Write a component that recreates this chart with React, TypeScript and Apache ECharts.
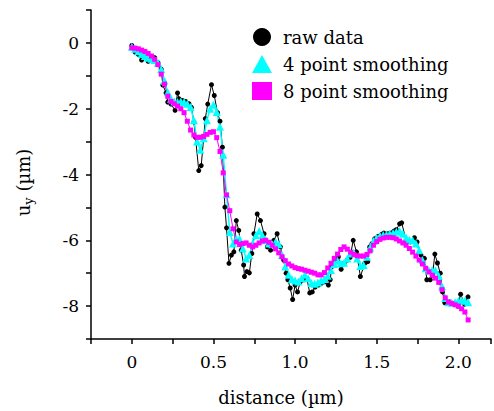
import React, { useEffect, useRef } from 'react';
import * as echarts from 'echarts';

const RAW_X = [
  0.0, 0.02, 0.04, 0.06, 0.08, 0.1, 0.12, 0.14, 0.16, 0.18, 0.19, 0.21, 0.22, 0.24, 0.265, 0.28, 0.29, 0.31, 0.33, 0.35,
  0.365, 0.38, 0.39, 0.41, 0.425, 0.44, 0.45, 0.465, 0.488, 0.505, 0.525, 0.54, 0.555, 0.57, 0.58, 0.595, 0.61, 0.625, 0.64, 0.655,
  0.67, 0.685, 0.69, 0.705, 0.72, 0.735, 0.748, 0.768, 0.788, 0.81, 0.83, 0.85, 0.87, 0.89, 0.91, 0.93, 0.945, 0.956, 0.97, 0.985,
  1.0, 1.015, 1.032, 1.052, 1.072, 1.09, 1.105, 1.123, 1.143, 1.163, 1.184, 1.204, 1.215, 1.225, 1.245, 1.265, 1.282, 1.3, 1.32, 1.337,
  1.356, 1.376, 1.4, 1.427, 1.445, 1.457, 1.471, 1.488, 1.508, 1.53, 1.544, 1.568, 1.588, 1.605, 1.62, 1.64, 1.653, 1.68, 1.706, 1.731,
  1.747, 1.771, 1.792, 1.807, 1.828, 1.842, 1.856, 1.872, 1.889, 1.903, 1.917, 1.944, 1.97, 1.998, 2.014, 2.038, 2.059,
];
const RAW_Y = [
  -0.08, -0.28, -0.35, -0.52, -0.45, -0.56, -0.5, -0.45, -0.6, -0.8, -1.28, -1.52, -1.8, -1.86, -2.05, -1.52, -1.7, -1.75, -1.78, -1.85,
  -1.96, -2.4, -2.87, -3.88, -3.73, -2.9, -2.3, -1.86, -1.27, -1.6, -2.12, -2.38, -3.17, -4.99, -5.62, -6.7, -6.45, -6.35, -5.4, -5.7,
  -6.3, -6.75, -7.1, -6.95, -6.99, -6.4, -5.8, -5.2, -5.4, -5.8, -6.2, -6.3, -6.0, -5.8, -6.2, -6.6, -7.0, -7.2, -7.45, -7.8,
  -7.36, -7.57, -7.26, -7.2, -7.16, -7.6, -7.57, -7.42, -7.36, -7.3, -7.26, -7.36, -7.2, -6.8, -6.6, -6.5, -6.88, -6.7, -6.6, -6.52,
  -6.0, -6.35, -7.1, -6.7, -6.65, -6.2, -6.1, -5.95, -5.88, -5.82, -5.78, -5.8, -5.78, -5.72, -5.68, -5.5, -5.47, -6.0, -6.05, -5.92,
  -6.05, -6.45, -6.55, -7.2, -7.2, -7.06, -6.42, -6.69, -7.0, -7.57, -7.9, -7.87, -7.92, -8.0, -7.64, -7.94, -7.72,
];

const DIST = [
  0.0, 0.02, 0.04, 0.06, 0.08, 0.1, 0.12, 0.14, 0.16, 0.18, 0.2, 0.22, 0.24, 0.26, 0.28, 0.3, 0.32, 0.34, 0.36, 0.38,
  0.4, 0.42, 0.44, 0.46, 0.48, 0.5, 0.52, 0.54, 0.56, 0.58, 0.6, 0.62, 0.64, 0.66, 0.68, 0.7, 0.72, 0.74, 0.76, 0.78,
  0.8, 0.82, 0.84, 0.86, 0.88, 0.9, 0.92, 0.94, 0.96, 0.98, 1.0, 1.02, 1.04, 1.06, 1.08, 1.1, 1.12, 1.14, 1.16, 1.18,
  1.2, 1.22, 1.24, 1.26, 1.28, 1.3, 1.32, 1.34, 1.36, 1.38, 1.4, 1.42, 1.44, 1.46, 1.48, 1.5, 1.52, 1.54, 1.56, 1.58,
  1.6, 1.62, 1.64, 1.66, 1.68, 1.7, 1.72, 1.74, 1.76, 1.78, 1.8, 1.82, 1.84, 1.86, 1.88, 1.9, 1.92, 1.94, 1.96, 1.98,
  2.0, 2.02, 2.04, 2.06,
];
const SMOOTH4_Y = [
  -0.12, -0.18, -0.25, -0.33, -0.4, -0.45, -0.48, -0.52, -0.6, -0.8, -1.15, -1.5, -1.7, -1.78, -1.8, -1.78, -1.8, -1.85, -1.95, -2.35,
  -3.0, -3.25, -2.9, -2.35, -2.0, -1.88, -2.1, -2.55, -3.4, -4.6, -5.75, -6.1, -5.95, -5.95, -6.25, -6.55, -6.45, -6.1, -5.85, -5.72,
  -5.85, -6.0, -6.1, -6.12, -6.05, -6.12, -6.45, -6.8, -7.05, -7.18, -7.22, -7.25, -7.15, -7.05, -7.15, -7.3, -7.32, -7.28, -7.22, -7.18,
  -7.08, -6.9, -6.72, -6.62, -6.7, -6.68, -6.55, -6.4, -6.38, -6.55, -6.78, -6.75, -6.5, -6.22, -6.02, -5.92, -5.86, -5.84, -5.82, -5.8,
  -5.78, -5.74, -5.72, -5.8, -5.92, -5.98, -6.0, -6.1, -6.3, -6.6, -6.85, -6.92, -6.9, -6.92, -7.08, -7.4, -7.75, -7.88, -7.9, -7.88,
  -7.84, -7.82, -7.84, -7.88,
];
const SMOOTH8_Y = [
  -0.15, -0.16, -0.18, -0.22, -0.26, -0.32, -0.4, -0.5, -0.66, -0.95, -1.25, -1.62, -1.78, -1.85, -1.92, -2.0, -2.12, -2.38, -2.65, -2.8,
  -2.87, -2.87, -2.84, -2.78, -2.72, -2.7, -2.88, -3.3, -3.95, -4.62, -5.1, -5.65, -6.05, -6.13, -6.1, -6.08, -6.15, -6.2, -6.15, -6.08,
  -6.02, -6.0, -6.06, -6.15, -6.26, -6.38, -6.5, -6.62, -6.72, -6.78, -6.83, -6.86, -6.88, -6.91, -6.94, -6.97, -7.0, -7.05, -7.05, -6.98,
  -6.84, -6.7, -6.55, -6.42, -6.28, -6.2, -6.27, -6.36, -6.43, -6.47, -6.48, -6.48, -6.43, -6.32, -6.15, -6.04, -5.97, -5.93, -5.91, -5.91,
  -5.92, -5.96, -6.02, -6.08, -6.15, -6.25, -6.36, -6.48, -6.6, -6.72, -6.85, -6.96, -7.06, -7.15, -7.28, -7.5, -7.75, -7.88, -7.92, -7.96,
  -8.0, -8.08, -8.18, -8.42,
];

const SERIES_NAMES = ['raw data', '4 point smoothing', '8 point smoothing'];
const FONT = 'DejaVu Serif';

export default function App() {
  const ref = useRef<HTMLDivElement>(null);
  useEffect(() => {
    const chart = echarts.init(ref.current!, null, { renderer: 'svg' });
    const pair = (xs: number[], ys: number[]) => xs.map((x, i) => [x, ys[i]]);
    chart.setOption({
      animation: false,
      textStyle: { fontFamily: FONT, color: '#000' },
      grid: { left: 91, right: 0, top: 10, bottom: 71, containLabel: false },
      legend: {
        orient: 'vertical',
        left: 247,
        top: 23,
        itemWidth: 20,
        itemHeight: 18,
        itemGap: 9,
        data: [
          { name: SERIES_NAMES[0], icon: 'circle' },
          { name: SERIES_NAMES[1], icon: 'triangle' },
          { name: SERIES_NAMES[2], icon: 'rect' },
        ],
        textStyle: { fontFamily: FONT, fontSize: 18, color: '#000', padding: [0, 0, 0, 6] },
      },
      xAxis: {
        type: 'value',
        min: -0.25,
        max: 2.2,
        interval: 0.25,
        splitLine: { show: false },
        axisLine: { onZero: false, lineStyle: { color: '#000', width: 1.5 } },
        axisTick: { length: 5, lineStyle: { color: '#000', width: 1.5 } },
        axisLabel: {
          color: '#000',
          fontFamily: FONT,
          fontSize: 17,
          margin: 14,
          formatter: (v: number) => {
            const r = Math.round(v * 100);
            if (r < 0 || r % 50 !== 0) return '';
            return r === 0 ? '0' : v.toFixed(1);
          },
        },
        name: 'distance (µm)',
        nameLocation: 'middle',
        nameGap: 49,
        nameTextStyle: { fontFamily: FONT, fontSize: 18, color: '#000', padding: [0, 20, 0, 0] },
      },
      yAxis: {
        type: 'value',
        min: -9,
        max: 1,
        interval: 1,
        splitLine: { show: false },
        axisLine: { onZero: false, lineStyle: { color: '#000', width: 1.5 } },
        axisTick: { length: 5, lineStyle: { color: '#000', width: 1.5 } },
        axisLabel: {
          color: '#000',
          fontFamily: FONT,
          fontSize: 17,
          margin: 12,
          formatter: (v: number) => (Math.round(v) % 2 === 0 ? String(Math.round(v)) : ''),
        },
        name: '{u|u}{s|y} {u|(µm)}',
        nameLocation: 'middle',
        nameRotate: 90,
        nameGap: 56,
        nameTextStyle: {
          fontFamily: FONT,
          fontSize: 18,
          color: '#000',
          padding: [0, 16, 0, 0],
          rich: {
            u: { fontFamily: FONT, fontSize: 18, color: '#000', lineHeight: 24, verticalAlign: 'middle' },
            s: { fontFamily: FONT, fontSize: 13, color: '#000', lineHeight: 24, verticalAlign: 'bottom' },
          },
        },
      },
      series: [
        {
          name: SERIES_NAMES[0],
          type: 'line',
          data: pair(RAW_X, RAW_Y),
          symbol: 'circle',
          symbolSize: 5,
          showAllSymbol: true,
          itemStyle: { color: '#000' },
          lineStyle: { color: '#000', width: 1 },
        },
        {
          name: SERIES_NAMES[1],
          type: 'line',
          data: pair(DIST, SMOOTH4_Y),
          symbol: 'triangle',
          symbolSize: 8,
          showAllSymbol: true,
          itemStyle: { color: '#00ffff' },
          lineStyle: { color: '#00ffff', width: 1.5 },
        },
        {
          name: SERIES_NAMES[2],
          type: 'line',
          data: pair(DIST, SMOOTH8_Y),
          symbol: 'rect',
          symbolSize: 5,
          showAllSymbol: true,
          itemStyle: { color: '#ff00ff' },
          lineStyle: { color: '#ff00ff', width: 1 },
        },
      ],
    });
    return () => chart.dispose();
  }, []);
  return <div ref={ref} style={{ position: 'absolute', left: 0, top: 0, width: 494, height: 411 }} />;
}
